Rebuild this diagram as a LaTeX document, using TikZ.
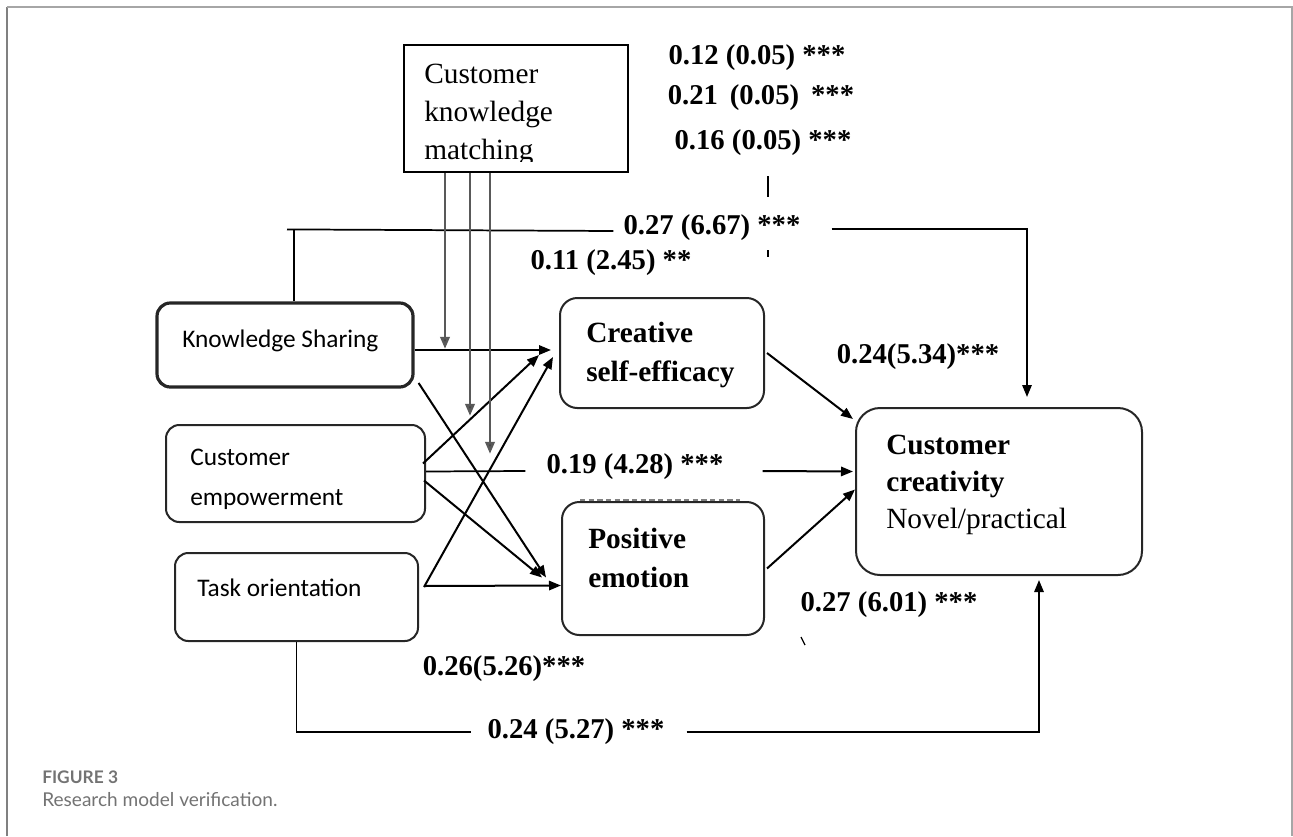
\documentclass[tikz,border=0pt]{standalone}
\usepackage{fontspec}
\setmainfont{Liberation Serif}
\newfontfamily\calib{Carlito}
\newfontfamily\capfont{Lato}
\usetikzlibrary{arrows.meta,calc,fit}
\begin{document}
\begin{tikzpicture}[x=0.75pt,y=-0.75pt,
  box/.style={draw=black!85, line width=1.5pt, rounded corners=10pt, inner sep=0pt},
  txt/.style={anchor=west, inner sep=0pt, align=left},
  sertxt/.style={txt, font=\fontsize{22}{28.5}\selectfont},
  santxt/.style={txt, font=\calib\fontsize{19}{30}\selectfont},
  lab/.style={inner sep=0pt, font=\fontsize{21.5}{24}\selectfont\bfseries},
  arr/.style={line width=1.5pt, -{Triangle[length=9pt,width=7pt]}},
  ln/.style={line width=1.3pt},
  modln/.style={line width=2pt, draw=black!65, -{Triangle[length=9pt,width=7pt,fill=black!80]}},
  frame/.style={line width=1pt, draw=black!35},
]
\useasboundingbox (0,0) rectangle (1293,836);
% outer frame
\draw[frame, draw=black!50] (7,836) -- (7,7);
\draw[frame] (7,7) -- (1292,7) -- (1292,836);

% boxes
\node[draw=black, line width=1.3pt, inner sep=0pt, fit={(404,45) (628,172)}] (cmk) {};
\node[box, line width=2.4pt, fit={(157,303) (413,387)}] (ks) {};
\node[box, fit={(166,425) (425,522)}] (ce) {};
\node[box, fit={(175,553) (418,641)}] (to) {};
\node[box, rounded corners=13pt, fit={(560,298) (764,408)}] (cse) {};
\node[box, rounded corners=13pt, fit={(562,502) (764,635)}] (pe) {};
\node[box, rounded corners=18pt, fit={(856,408) (1142,575)}] (cc) {};

% box texts
\begin{scope}
\clip (404,45) rectangle (628,161);
\node[sertxt] (cmkt) at (424,115) {Customer\\knowledge\\matching};
\end{scope}
\node[santxt] (kst) at (182,341) {Knowledge Sharing};
\node[santxt] (cet) at (190,479) {Customer\\empowerment};
\node[santxt] (tot) at (197,588) {Task orientation};
\node[sertxt, font=\bfseries\fontsize{22}{29}\selectfont] (cset) at (586,355) {Creative\\self-efficacy};
\node[sertxt, font=\bfseries\fontsize{22}{29}\selectfont] (pet) at (588,558) {Positive\\emotion};
\node[sertxt, font=\fontsize{22}{28}\selectfont] (cct) at (886,485) {\textbf{Customer}\\\textbf{creativity}\\Novel/practical};

% labels
\node[lab] (l1) at (757,58) {0.12 (0.05) ***};
\node[lab] (l2) at (761,98) {0.21 \,(0.05) \,***};
\node[lab] (l3) at (763,143) {0.16 (0.05) ***};
\node[lab] (l4) at (712,228) {0.27 (6.67) ***};
\node[lab] (l5) at (611,263) {0.11 (2.45) **};
\node[lab] (l6) at (918,357) {0.24(5.34)***};
\node[lab] (l7) at (635,467) {0.19 (4.28) ***};
\node[lab] (l8) at (889,605) {0.27 (6.01) ***};
\node[lab] (l9) at (504,669) {0.26(5.26)***};
\node[lab] (l10) at (576,732) {0.24 (5.27) ***};

% caption
\node[txt, font=\capfont\bfseries\fontsize{13}{15}\selectfont, text=black!55] (fig) at (42,777) {FIGURE 3};
\node[txt, font=\capfont\fontsize{14.3}{16}\selectfont, text=black!55] (cap) at (42,800) {Research model verification.};

% arrows from left boxes
\draw[arr] ($(ks.east)+(0,5)$) -- ($(cse.west)+(-8,-3)$);
\draw[arr] ($(ce.east)+(-3,-10)$) -- ($(cse.west)+(-20,2)$);
\draw[arr] ($(to.east)+(5,-10)$) -- ($(cse.west)+(-6,4)$);
\draw[arr] ($(ks.east)+(4,38)$) -- ($(pe.west)+(-15,9)$);
\draw[arr] ($(ce.east)+(-2,7)$) -- ($(pe.west)+(-19,9)$);
\draw[arr] ($(to.east)+(5,-11)$) -- ($(pe.west)+(0,17)$);

% direct paths
\draw[ln] ($(ce.east)+(0,-2)$) -- ($(l7.west)+(-21,4)$);
\draw[arr] ($(l7.east)+(39,4)$) -- ($(cc.west)+(-2,-20)$);
\draw[arr] ($(cse.east)+(2,0)$) -- ($(cc.north west)+(-2,12)$);
\draw[arr] ($(pe.east)+(2,0)$) -- ($(cc.west)+(0,-2)$);

% knowledge sharing top path
\draw[ln] ($(ks.north)+(9,0)$) -- ++(0,-72);
\draw[ln] ($(ks.north)+(2,-72)$) -- ($(l4.west)+(-10,3)$);
\draw[arr] ($(l4.east)+(31,1)$) -| ($(cc.north)+(28,-10)$);

% task orientation bottom path
\draw[ln] (to.south) |- ($(l10.west)+(-16,0)$);
\draw[arr] ($(l10.east)+(22,0)$) -| ($(cc.south)+(40,4)$);

% moderator lines
\draw[modln] ($(cmk.south)+(-71,0)$) -- ++(0,176);
\draw[modln] ($(cmk.south)+(-46,0)$) -- ++(0,243);
\draw[modln] ($(cmk.south)+(-26,0)$) -- ++(0,281);

% small marks
\draw[line width=1.2pt] (768,176) -- (768,197);
\draw[line width=1.2pt] (768,250) -- (768,257);
\draw[line width=1pt] (801,637) -- (805,645);
\draw[line width=1pt, draw=black!50, dash pattern=on 4pt off 2.5pt] (580,500) -- (740,500);
\end{tikzpicture}
\end{document}
